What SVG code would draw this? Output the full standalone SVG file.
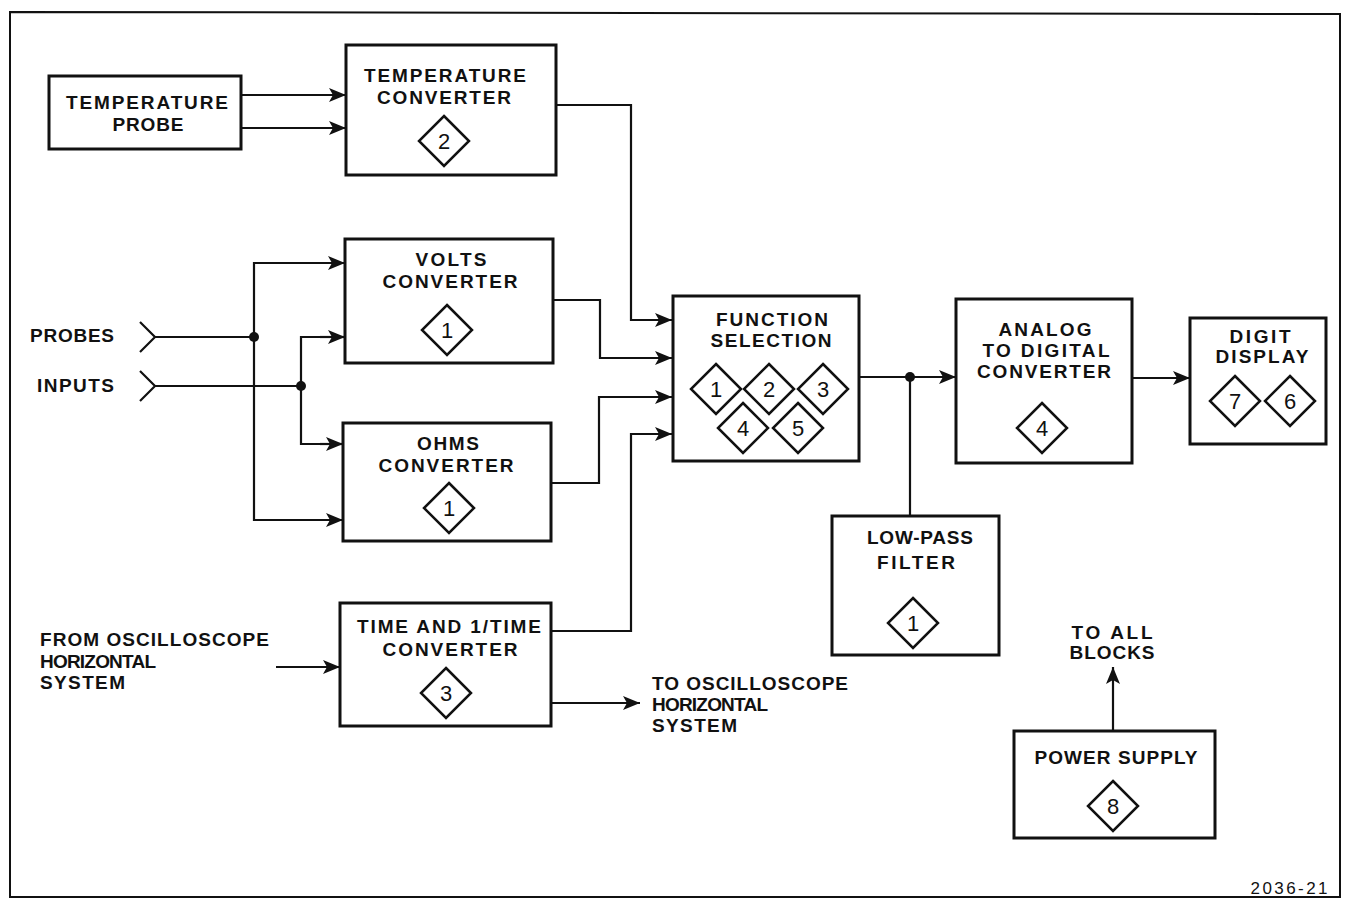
<svg xmlns="http://www.w3.org/2000/svg" width="1345" height="900" viewBox="0 0 1345 900">
<defs>
<style>
.box{fill:#fff;stroke:#111;stroke-width:3}
.ln{fill:none;stroke:#111;stroke-width:2.2}
.dia{fill:#fff;stroke:#111;stroke-width:2.5}
.t{font-family:"Liberation Sans",Arial,sans-serif;font-weight:bold;font-size:19px;fill:#111;text-anchor:middle}
.tl{font-family:"Liberation Sans",Arial,sans-serif;font-weight:bold;font-size:19px;fill:#111}
.n{font-family:"Liberation Sans",Arial,sans-serif;font-size:22px;fill:#111;text-anchor:middle}
.dot{fill:#111}
</style>
<marker id="ah" markerUnits="userSpaceOnUse" markerWidth="18" markerHeight="14" refX="17" refY="7" orient="auto">
<path d="M0,0 L17,7 L0,14 L4,7 z" fill="#111"/>
</marker>
</defs>
<rect width="1345" height="900" fill="#fff"/>
<polygon points="10,12 1340,14 1340,897 10,897" fill="none" stroke="#111" stroke-width="2"/>

<g id="connectors">
<line class="ln" x1="241" y1="95" x2="346" y2="95" marker-end="url(#ah)"/>
<line class="ln" x1="241" y1="128" x2="346" y2="128" marker-end="url(#ah)"/>
<polyline class="ln" points="556,105 631,105 631,320 672,320" marker-end="url(#ah)"/>
<polyline class="ln" points="553,300 600,300 600,358 672,358" marker-end="url(#ah)"/>
<polyline class="ln" points="551,483 599,483 599,397 672,397" marker-end="url(#ah)"/>
<polyline class="ln" points="551,631 631,631 631,434 672,434" marker-end="url(#ah)"/>
<polyline class="ln" points="140,322 155,337 140,352"/>
<polyline class="ln" points="140,371 155,386 140,401"/>
<line class="ln" x1="155" y1="337" x2="254" y2="337"/>
<line class="ln" x1="155" y1="386" x2="301" y2="386"/>
<polyline class="ln" points="345,263 254,263 254,520 343,520"/>
<line class="ln" x1="300" y1="263" x2="345" y2="263" marker-end="url(#ah)"/>
<line class="ln" x1="300" y1="520" x2="343" y2="520" marker-end="url(#ah)"/>
<polyline class="ln" points="345,337 301,337 301,444 343,444"/>
<line class="ln" x1="320" y1="337" x2="345" y2="337" marker-end="url(#ah)"/>
<line class="ln" x1="320" y1="444" x2="343" y2="444" marker-end="url(#ah)"/>
<circle class="dot" cx="254" cy="337" r="5"/>
<circle class="dot" cx="301" cy="386" r="5"/>
<line class="ln" x1="276" y1="667" x2="340" y2="667" marker-end="url(#ah)"/>
<line class="ln" x1="551" y1="703" x2="640" y2="703" marker-end="url(#ah)"/>
<line class="ln" x1="859" y1="377" x2="956" y2="377" marker-end="url(#ah)"/>
<circle class="dot" cx="910" cy="377" r="5"/>
<line class="ln" x1="910" y1="377" x2="910" y2="516"/>
<line class="ln" x1="1132" y1="378" x2="1190" y2="378" marker-end="url(#ah)"/>
<line class="ln" x1="1113" y1="730" x2="1113" y2="667" marker-end="url(#ah)"/>
</g>

<g id="temp-probe">
<rect class="box" x="49" y="76" width="192" height="73"/>
<text class="t" x="147" y="109" textLength="162" lengthAdjust="spacing">TEMPERATURE</text>
<text class="t" x="148" y="131" textLength="71" lengthAdjust="spacing">PROBE</text>
</g>

<g id="temp-converter">
<rect class="box" x="346" y="45" width="210" height="130"/>
<text class="t" x="445" y="82" textLength="162" lengthAdjust="spacing">TEMPERATURE</text>
<text class="t" x="444" y="104" textLength="134" lengthAdjust="spacing">CONVERTER</text>
<polygon class="dia" points="444,116 469,141 444,166 419,141"/>
<text class="n" x="444" y="149">2</text>
</g>

<g id="volts-converter">
<rect class="box" x="345" y="239" width="208" height="124"/>
<text class="t" x="451" y="266" textLength="71" lengthAdjust="spacing">VOLTS</text>
<text class="t" x="450" y="288" textLength="135" lengthAdjust="spacing">CONVERTER</text>
<polygon class="dia" points="447,305 472,330 447,355 422,330"/>
<text class="n" x="447" y="338">1</text>
</g>

<g id="ohms-converter">
<rect class="box" x="343" y="423" width="208" height="118"/>
<text class="t" x="448" y="450" textLength="62" lengthAdjust="spacing">OHMS</text>
<text class="t" x="446" y="472" textLength="135" lengthAdjust="spacing">CONVERTER</text>
<polygon class="dia" points="449,483 474,508 449,533 424,508"/>
<text class="n" x="449" y="516">1</text>
</g>

<g id="time-converter">
<rect class="box" x="340" y="603" width="211" height="123"/>
<text class="t" x="449" y="633" textLength="184" lengthAdjust="spacing">TIME AND 1/TIME</text>
<text class="t" x="450" y="656" textLength="135" lengthAdjust="spacing">CONVERTER</text>
<polygon class="dia" points="446,668 471,693 446,718 421,693"/>
<text class="n" x="446" y="701">3</text>
</g>

<g id="labels-left">
<text class="tl" x="30" y="342" textLength="84" lengthAdjust="spacing">PROBES</text>
<text class="tl" x="37" y="392" textLength="77" lengthAdjust="spacing">INPUTS</text>
<text class="tl" x="40" y="646" textLength="229" lengthAdjust="spacing">FROM OSCILLOSCOPE</text>
<text class="tl" x="40" y="668" textLength="116" lengthAdjust="spacing">HORIZONTAL</text>
<text class="tl" x="40" y="689" textLength="85" lengthAdjust="spacing">SYSTEM</text>
</g>

<g id="labels-to-scope">
<text class="tl" x="652" y="690" textLength="196" lengthAdjust="spacing">TO OSCILLOSCOPE</text>
<text class="tl" x="652" y="711" textLength="116" lengthAdjust="spacing">HORIZONTAL</text>
<text class="tl" x="652" y="732" textLength="85" lengthAdjust="spacing">SYSTEM</text>
</g>

<g id="function-selection">
<rect class="box" x="673" y="296" width="186" height="165"/>
<text class="t" x="772" y="326" textLength="112" lengthAdjust="spacing">FUNCTION</text>
<text class="t" x="771" y="347" textLength="121" lengthAdjust="spacing">SELECTION</text>
<polygon class="dia" points="716,364 741,389 716,414 691,389"/>
<text class="n" x="716" y="397">1</text>
<polygon class="dia" points="769,364 794,389 769,414 744,389"/>
<text class="n" x="769" y="397">2</text>
<polygon class="dia" points="823,364 848,389 823,414 798,389"/>
<text class="n" x="823" y="397">3</text>
<polygon class="dia" points="743,403 768,428 743,453 718,428"/>
<text class="n" x="743" y="436">4</text>
<polygon class="dia" points="798,403 823,428 798,453 773,428"/>
<text class="n" x="798" y="436">5</text>
</g>

<g id="adc">
<rect class="box" x="956" y="299" width="176" height="164"/>
<text class="t" x="1045" y="336" textLength="93" lengthAdjust="spacing">ANALOG</text>
<text class="t" x="1046" y="357" textLength="127" lengthAdjust="spacing">TO DIGITAL</text>
<text class="t" x="1044" y="378" textLength="134" lengthAdjust="spacing">CONVERTER</text>
<polygon class="dia" points="1042,403 1067,428 1042,453 1017,428"/>
<text class="n" x="1042" y="436">4</text>
</g>

<g id="digit-display">
<rect class="box" x="1190" y="318" width="136" height="126"/>
<text class="t" x="1260" y="343" textLength="61" lengthAdjust="spacing">DIGIT</text>
<text class="t" x="1262" y="363" textLength="93" lengthAdjust="spacing">DISPLAY</text>
<polygon class="dia" points="1235,376 1260,401 1235,426 1210,401"/>
<text class="n" x="1235" y="409">7</text>
<polygon class="dia" points="1290,376 1315,401 1290,426 1265,401"/>
<text class="n" x="1290" y="409">6</text>
</g>

<g id="low-pass-filter">
<rect class="box" x="832" y="516" width="167" height="139"/>
<text class="t" x="920" y="544" textLength="106" lengthAdjust="spacing">LOW-PASS</text>
<text class="t" x="916" y="569" textLength="78" lengthAdjust="spacing">FILTER</text>
<polygon class="dia" points="913,598 938,623 913,648 888,623"/>
<text class="n" x="913" y="631">1</text>
</g>

<g id="power-supply">
<rect class="box" x="1014" y="731" width="201" height="107"/>
<text class="t" x="1116" y="764" textLength="163" lengthAdjust="spacing">POWER SUPPLY</text>
<polygon class="dia" points="1113,781 1138,806 1113,831 1088,806"/>
<text class="n" x="1113" y="814">8</text>
</g>

<g id="to-all-blocks">
<text class="t" x="1112" y="639" textLength="81" lengthAdjust="spacing">TO ALL</text>
<text class="t" x="1112" y="659" textLength="85" lengthAdjust="spacing">BLOCKS</text>
</g>

<text x="1289" y="894" font-family="Liberation Sans, Arial, sans-serif" font-size="17" fill="#111" text-anchor="middle" textLength="77" lengthAdjust="spacing">2036-21</text>
</svg>
